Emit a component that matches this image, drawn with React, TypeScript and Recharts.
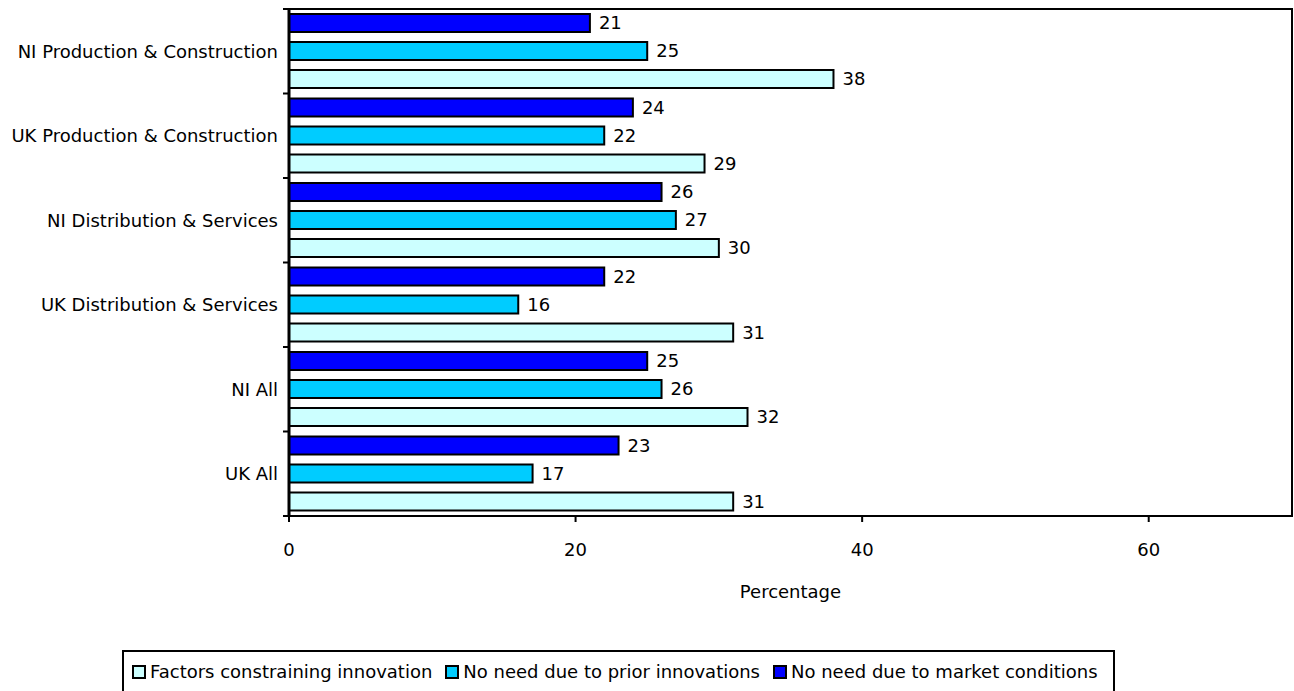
import React from 'react';
import {
  BarChart,
  Bar,
  XAxis,
  YAxis,
  LabelList,
  ReferenceArea,
  Legend,
} from 'recharts';

const categories = [
  'NI Production & Construction',
  'UK Production & Construction',
  'NI Distribution & Services',
  'UK Distribution & Services',
  'NI All',
  'UK All',
];
const marketConditions = [21, 24, 26, 22, 25, 23];
const priorInnovations = [25, 22, 27, 16, 26, 17];
const constrainingFactors = [38, 29, 30, 31, 32, 31];
const xTicks = [0, 20, 40, 60];

const seriesInfo = [
  { key: 'constraining', name: 'Factors constraining innovation', color: '#CCFFFF' },
  { key: 'prior', name: 'No need due to prior innovations', color: '#00CCFF' },
  { key: 'market', name: 'No need due to market conditions', color: '#0000FF' },
];

const data = categories.map((name, i) => ({
  name,
  market: marketConditions[i],
  prior: priorInnovations[i],
  constraining: constrainingFactors[i],
}));

const FONT = '"DejaVu Sans", sans-serif';
const WIDTH = 1294;
const HEIGHT = 691;
const MARGIN = { top: 9, right: 2, bottom: 115, left: 0 };
const X_AXIS_HEIGHT = 60;
const PLOT_HEIGHT = HEIGHT - MARGIN.top - MARGIN.bottom - X_AXIS_HEIGHT;
const HALF_BAND = PLOT_HEIGHT / categories.length / 2;
// default tick size (6) + tick margin (2) that Recharts subtracts from the axis x
const TICK_OFFSET = 8;

// Category label at band centre, tick marks at band boundaries
const CategoryTick = (props: any) => {
  const { x, y, payload, index } = props;
  const axisX = x + TICK_OFFSET;
  return (
    <g>
      <line x1={axisX - 6} x2={axisX} y1={y - HALF_BAND} y2={y - HALF_BAND} stroke="#000" strokeWidth={2} />
      {index === categories.length - 1 && (
        <line x1={axisX - 6} x2={axisX} y1={y + HALF_BAND} y2={y + HALF_BAND} stroke="#000" strokeWidth={2} />
      )}
      <text
        x={axisX - 11}
        y={y}
        textAnchor="end"
        dominantBaseline="central"
        fontFamily={FONT}
        fontSize={18}
        fill="#000"
      >
        {payload.value}
      </text>
    </g>
  );
};

const renderLegend = () => (
  <div
    style={{
      border: '2px solid #000',
      boxSizing: 'border-box',
      width: 993,
      height: 50,
      display: 'flex',
      alignItems: 'flex-start',
      paddingTop: 9,
      paddingLeft: 8,
      fontFamily: FONT,
      fontSize: 18,
      color: '#000',
      whiteSpace: 'nowrap',
    }}
  >
    {seriesInfo.map((s) => (
      <span key={s.key} style={{ display: 'inline-flex', alignItems: 'center', marginRight: 13 }}>
        <span
          style={{
            display: 'inline-block',
            width: 14,
            height: 14,
            boxSizing: 'border-box',
            border: '2px solid #000',
            background: s.color,
            marginRight: 4,
          }}
        />
        <span>{s.name}</span>
      </span>
    ))}
  </div>
);

export default function App() {
  return (
    <div
      style={{
        position: 'absolute',
        left: 0,
        top: 0,
        width: WIDTH,
        height: HEIGHT,
        overflow: 'hidden',
        background: '#fff',
      }}
    >
      <BarChart
        width={WIDTH}
        height={HEIGHT}
        data={data}
        layout="vertical"
        margin={MARGIN}
        barCategoryGap={5}
        barGap={10}
      >
        <XAxis
          type="number"
          domain={[0, 70]}
          ticks={xTicks}
          allowDataOverflow
          height={X_AXIS_HEIGHT}
          axisLine={{ stroke: '#000', strokeWidth: 2 }}
          tickLine={{ stroke: '#000', strokeWidth: 2 }}
          tickSize={6}
          tickMargin={21}
          tick={{ fill: '#000', fontFamily: FONT, fontSize: 18 }}
          label={{
            value: 'Percentage',
            position: 'bottom',
            offset: 9,
            fill: '#000',
            fontFamily: FONT,
            fontSize: 18,
          }}
        />
        <YAxis
          type="category"
          dataKey="name"
          width={289}
          axisLine={{ stroke: '#000', strokeWidth: 3 }}
          tickLine={false}
          tick={<CategoryTick />}
          interval={0}
        />
        <ReferenceArea
          x1={0}
          x2={70}
          fill="none"
          stroke="#000"
          strokeWidth={2}
          ifOverflow="visible"
        />
        <Bar dataKey="market" name="No need due to market conditions" fill="#0000FF" stroke="#000" strokeWidth={2} isAnimationActive={false}>
          <LabelList dataKey="market" position="right" offset={9} fill="#000" fontFamily={FONT} fontSize={18} />
        </Bar>
        <Bar dataKey="prior" name="No need due to prior innovations" fill="#00CCFF" stroke="#000" strokeWidth={2} isAnimationActive={false}>
          <LabelList dataKey="prior" position="right" offset={9} fill="#000" fontFamily={FONT} fontSize={18} />
        </Bar>
        <Bar dataKey="constraining" name="Factors constraining innovation" fill="#CCFFFF" stroke="#000" strokeWidth={2} isAnimationActive={false}>
          <LabelList dataKey="constraining" position="right" offset={9} fill="#000" fontFamily={FONT} fontSize={18} />
        </Bar>
        <Legend
          layout="horizontal"
          verticalAlign="middle"
          align="center"
          content={renderLegend}
          wrapperStyle={{ top: 650, left: 122, width: 993, height: 50 }}
        />
      </BarChart>
    </div>
  );
}
